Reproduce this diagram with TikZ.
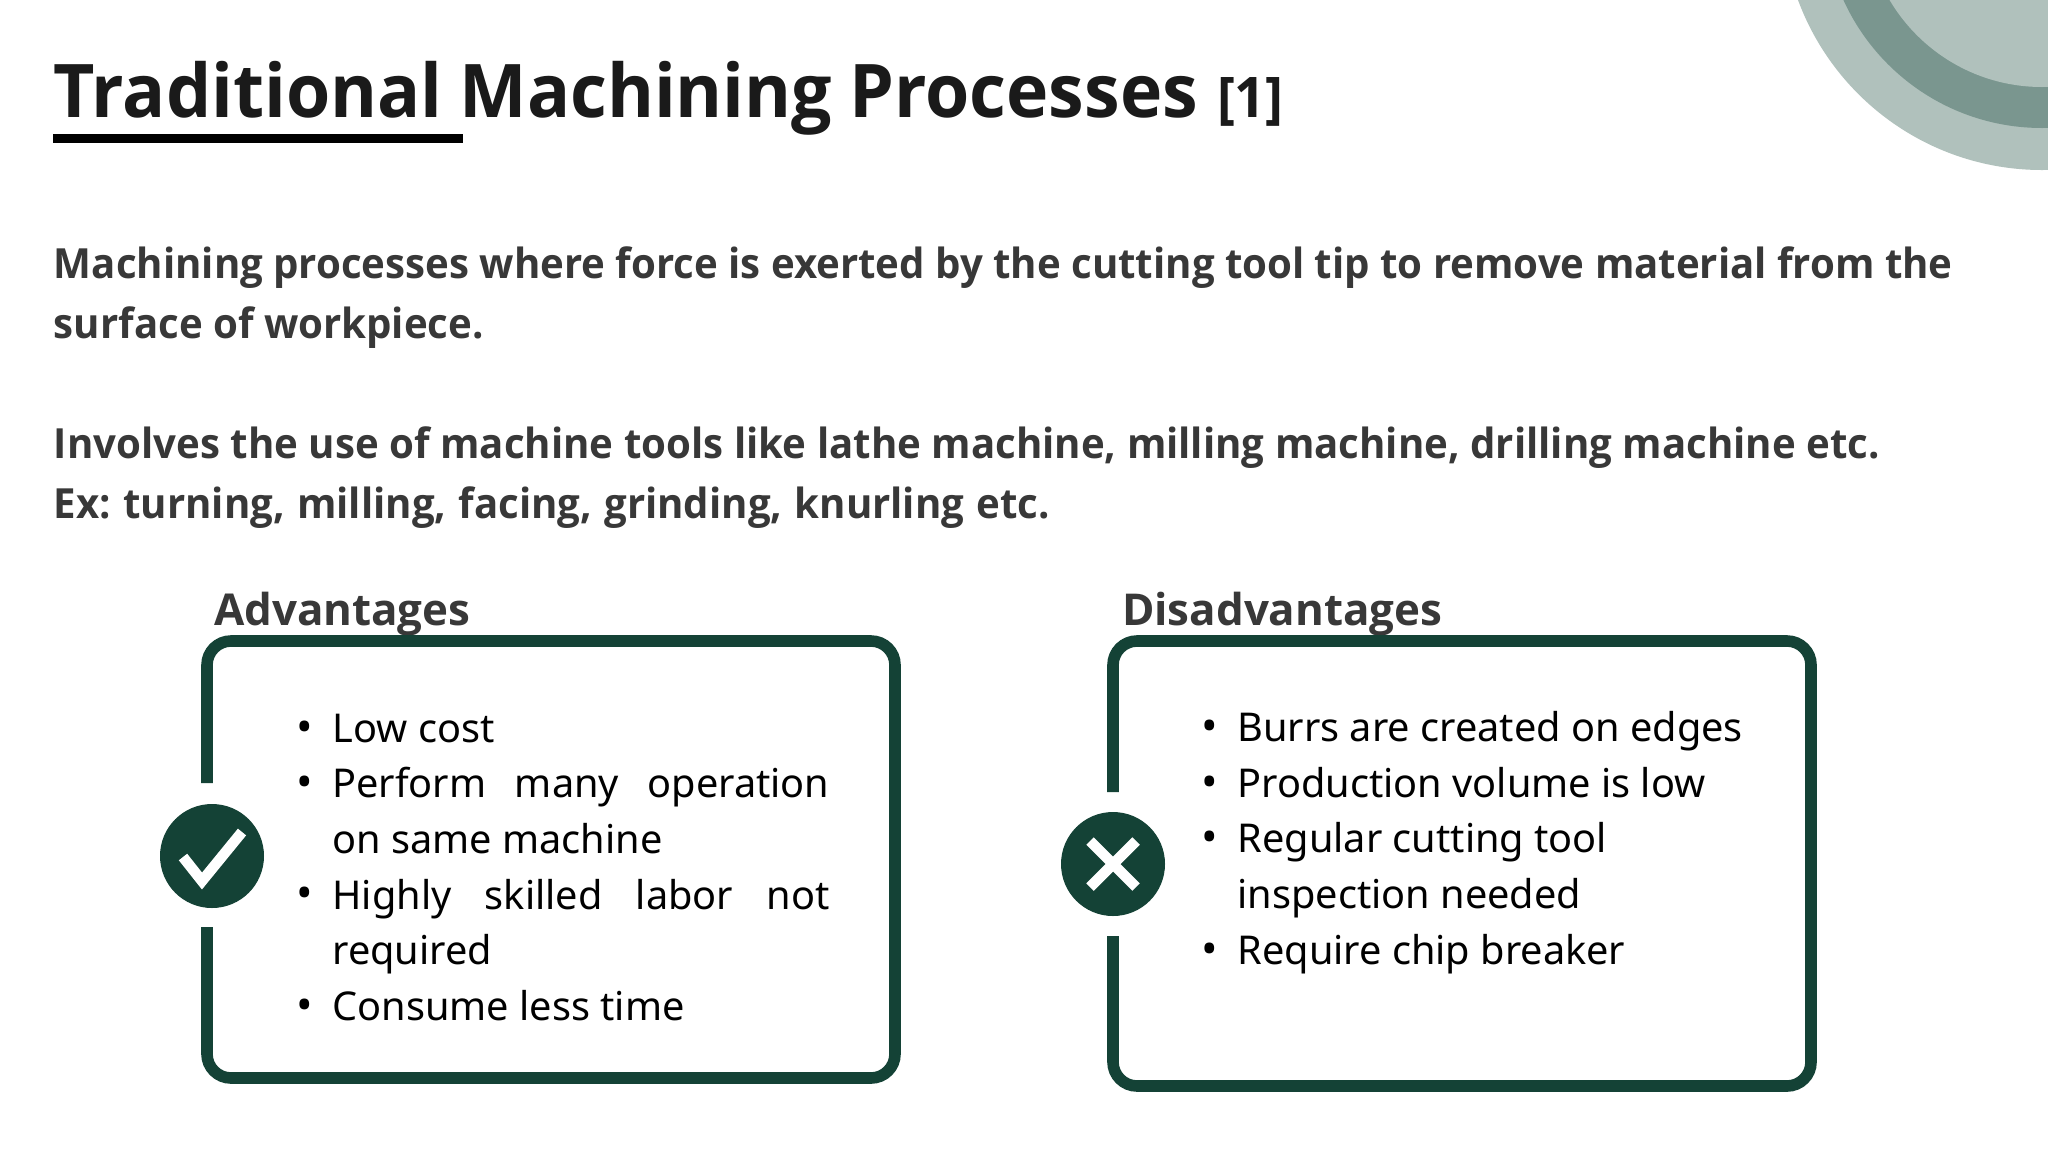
\documentclass[tikz,border=0pt]{standalone}
\usepackage{fontspec}
\usepackage{tikz}
\setmainfont{Noto Sans}
\newfontfamily\titlefont[FakeStretch=0.967]{Open Sans}
\newfontfamily\headfont{Open Sans}
\frenchspacing

\definecolor{boxgreen}{HTML}{144236}
\definecolor{palegreen}{HTML}{B0C1BC}
\definecolor{midgreen}{HTML}{7A968F}
\definecolor{bodygray}{HTML}{383838}
\definecolor{titleblack}{HTML}{1A1A1A}

\tikzset{
    every node/.style={inner sep=0pt, outer sep=0pt},
    titletext/.style={anchor=base west, text=titleblack, font=\titlefont\bfseries\fontsize{37}{44}\selectfont},
    reftext/.style={anchor=base west, text=titleblack, font=\titlefont\bfseries\fontsize{28}{30}\selectfont},
    bodytext/.style={anchor=base west, text=bodygray, font=\titlefont\bfseries\fontsize{20.77}{25}\selectfont},
    headtext/.style={anchor=base west, text=bodygray, font=\headfont\bfseries\fontsize{21.95}{25}\selectfont},
    itemtext/.style={anchor=base west, text=black, font=\fontsize{19.85}{25}\selectfont},
    itemdot/.style={anchor=base, text=black, font=\fontsize{22}{25}\selectfont},
    boxline/.style={draw=boxgreen, line width=5.8pt, rounded corners=12pt},
    badge/.style={circle, fill=boxgreen, minimum size=52pt},
    badgemark/.style={draw=white, line width=5.3pt}
}

\begin{document}
\begin{tikzpicture}[x=0.5pt,y=-0.5pt]
    \clip (0,0) rectangle (2048,1152);
    \fill[white] (0,0) rectangle (2048,1152);

    % corner rings
    \fill[palegreen] (2042,-90) circle (260);
    \fill[midgreen] (2042,-90) circle (218);
    \fill[palegreen] (2042,-90) circle (177);

    % heading
    \node[titletext] (title) at (54,117) {\makebox[572pt][s]{Traditional Machining Processes}};
    \node[reftext] (ref) at (1217,117) {[1]};
    \fill[black] (53,134) rectangle (463,143);

    % paragraphs
    \node[bodytext] (lineone) at (54,278) {Machining processes where force is exerted by the cutting tool tip to remove material from the};
    \node[bodytext] (linetwo) at (54,338) {surface of workpiece.};
    \node[bodytext] (linethree) at (54,458) {\makebox[913pt][s]{Involves the use of machine tools like lathe machine, milling machine, drilling machine etc.}};
    \node[bodytext] (linefour) at (54,518) {\makebox[498pt][s]{Ex: turning, milling, facing, grinding, knurling etc.}};

    % left box
    \node[headtext] (advhead) at (214,625) {Advantages};
    \coordinate (advtop) at (207,783);
    \coordinate (advbot) at (207,927);
    \draw[boxline] (advbot) -- (207,1078) -- (895,1078) -- (895,641) -- (207,641) -- (advtop);
    \node[badge] (advbadge) at (212,856) {};
    \coordinate (checka) at (183,857);
    \coordinate (checkb) at (202,881);
    \coordinate (checkc) at (242,832);
    \draw[badgemark] (checka) -- (checkb) -- (checkc);

    \foreach \y in {742,797,908,1020}
        \node[itemdot] at (305,\y) {•};
    \node[itemtext] (advone) at (332.5,742) {Low cost};
    \node[itemtext] (advtwo) at (332.5,797) {\makebox[248.5pt][s]{Perform many operation}};
    \node[itemtext] (advthree) at (332.5,853) {on same machine};
    \node[itemtext] (advfour) at (332.5,909) {\makebox[248.5pt][s]{Highly skilled labor not}};
    \node[itemtext] (advfive) at (332.5,964) {required};
    \node[itemtext] (advsix) at (332.5,1020) {Consume less time};

    % right box
    \node[headtext] (dishead) at (1122,625) {Disadvantages};
    \coordinate (distop) at (1113,792);
    \coordinate (disbot) at (1113,936);
    \draw[boxline] (disbot) -- (1113,1086) -- (1811,1086) -- (1811,641) -- (1113,641) -- (distop);
    \node[badge] (disbadge) at (1113,864) {};
    \coordinate (crossa) at (1090,841);
    \coordinate (crossb) at (1136,887);
    \coordinate (crossc) at (1090,887);
    \coordinate (crossd) at (1136,841);
    \draw[badgemark] (crossa) -- (crossb) (crossc) -- (crossd);

    \foreach \y in {741,797,852,964}
        \node[itemdot] at (1210,\y) {•};
    \node[itemtext] (disone) at (1237.5,741) {Burrs are created on edges};
    \node[itemtext] (distwo) at (1237.5,797) {Production volume is low};
    \node[itemtext] (disthree) at (1237.5,852) {Regular cutting tool};
    \node[itemtext] (disfour) at (1237.5,908) {inspection needed};
    \node[itemtext] (disfive) at (1237.5,964) {Require chip breaker};
\end{tikzpicture}
\end{document}
